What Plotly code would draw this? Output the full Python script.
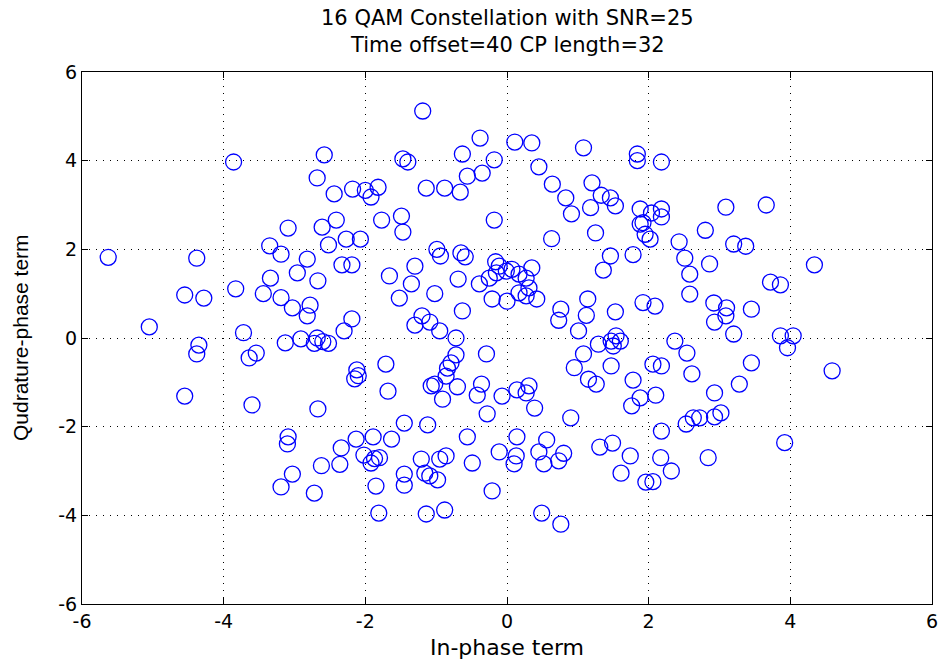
import plotly.graph_objects as go

# Received 16-QAM symbols after timing offset (in-phase, quadrature)
in_phase = [
    -1.19, -0.38, 0.11, 0.35, 1.08, 1.84, 1.84, 2.18, -3.86, -2.58,
    -1.47, -1.40, -0.63, -0.18, 0.45, -0.56, -0.35, -1.14, -0.88, -0.66,
    -2.18, -2.00, -1.92, -1.82, 0.64, 1.20, 0.83, 0.91, 1.18, 1.33,
    1.46, 1.53, 1.88, 2.04, 2.18, 2.18, 1.92, 1.95, 2.02, -1.77,
    -1.49, -1.47, -0.18, 1.25, 0.63, -2.07, -0.99, -0.94, -0.65, -0.59,
    -0.16, 1.46, 1.78, -2.68, -2.44, -3.09, -2.61, -2.41, -2.27, -2.52,
    -3.35, -3.19, -2.82, -5.63, -4.38, -2.33, -2.19, -3.34, -2.96, -2.67,
    -3.83, -3.44, -3.19, -3.03, -2.78, -2.82, -4.55, -4.28, -5.05, -3.72,
    -2.19, -2.30, -3.13, -2.91, -2.68, -2.60, -2.72, -2.52, -4.35, -4.38,
    -3.54, -3.64, -2.12, -2.10, -2.15, -4.55, -3.60, -2.67, -3.09, -3.10,
    -2.13, -2.34, -2.36, -2.62, -3.03, -3.19, -2.72, -1.30, -1.66, -1.35,
    -0.69, -1.52, -1.02, -0.63, -1.20, -1.30, -1.09, -0.95, -0.72, -0.11,
    -0.01, 0.07, 0.17, -0.15, -0.25, -0.39, 0.35, 0.27, 0.31, 0.17,
    0.27, 0.42, -0.21, 0.00, 0.76, 0.73, 1.14, 1.12, 1.01, 1.36,
    1.92, 1.53, 1.29, 1.47, 1.54, 1.60, 1.50, 1.08, 0.95, 1.47,
    1.15, 1.26, 1.78, 1.88, 1.76, 0.90, -1.71, -0.72, -0.79, -0.84,
    -0.86, -0.29, -1.68, -1.07, -1.02, -0.70, -0.91, -0.36, -0.42, -0.07,
    0.14, 0.31, 0.27, 0.39, -0.28, -1.45, -1.12, -1.89, -1.63, -0.56,
    0.14, 0.56, -2.02, -1.87, -1.80, -1.92, -1.21, -0.95, -0.86, -1.16,
    -1.09, -0.98, -1.45, -1.45, -0.49, -0.11, 0.13, 0.10, 0.45, 0.52,
    0.73, 0.80, 1.31, 1.49, 1.74, 1.61, 1.96, -1.85, -0.21, -1.81,
    -1.14, -0.88, 0.49, 0.76, 3.09, 3.66, 2.80, 2.43, 3.20, 3.37,
    2.51, 2.86, 2.58, 4.34, 3.72, 3.86, 2.58, 2.09, 2.92, 3.10,
    3.09, 2.93, 3.45, 3.20, 3.86, 4.04, 3.96, 2.37, 2.54, 2.06,
    2.18, 3.45, 2.61, 4.59, 3.28, 2.93, 2.10, 3.02, 2.93, 2.72,
    2.63, 2.53, 2.18, 3.92, 2.17, 2.84, 2.32, 2.06, 1.88,
]
quadrature = [
    5.12, 4.51, 4.42, 4.40, 4.29, 4.15, 4.00, 3.97, 3.97, 4.13,
    4.04, 3.97, 4.15, 4.02, 3.86, 3.65, 3.72, 3.38, 3.38, 3.29,
    3.36, 3.33, 3.18, 3.40, 3.47, 3.50, 3.16, 2.80, 2.94, 3.22,
    3.16, 2.98, 2.91, 2.82, 2.91, 2.73, 2.60, 2.34, 2.23, 2.66,
    2.75, 2.39, 2.66, 2.37, 2.24, 2.23, 2.00, 1.85, 1.92, 1.83,
    1.72, 1.85, 1.88, 3.61, 3.25, 2.48, 2.50, 2.66, 2.23, 2.10,
    2.08, 1.89, 1.78, 1.82, 1.80, 1.65, 1.65, 1.35, 1.47, 1.29,
    1.11, 1.00, 0.91, 0.68, 0.74, 0.50, 0.97, 0.90, 0.25, 0.12,
    0.43, 0.16, -0.11, -0.02, 0.00, -0.08, -0.12, -0.12, -0.16, -0.36,
    -0.34, -0.45, -0.72, -0.85, -0.92, -1.31, -1.51, -1.60, -2.23, -2.39,
    -2.28, -2.48, -2.85, -2.88, -3.07, -3.36, -3.50, 1.62, 1.40, 1.22,
    1.33, 0.90, 1.00, 0.61, 0.50, 0.29, 0.36, 0.16, 0.00, 1.62,
    1.51, 1.55, 1.44, 1.47, 1.35, 1.22, 1.58, 1.35, 1.13, 1.02,
    0.95, 0.88, 0.88, 0.83, 0.65, 0.40, 0.88, 0.51, 0.16, 1.53,
    0.80, 0.59, -0.14, -0.07, 0.05, -0.07, -0.18, -0.36, -0.67, -0.63,
    -0.93, -1.04, -0.95, -1.35, -1.53, -1.80, -0.59, -0.38, -0.56, -0.68,
    -0.86, -0.36, -1.20, -1.08, -1.04, -1.10, -1.38, -1.04, -1.29, -1.31,
    -1.17, -1.08, -1.24, -1.58, -1.71, -1.92, -1.96, -2.23, -2.28, -2.23,
    -2.23, -2.30, -2.64, -2.72, -2.70, -2.82, -2.73, -2.73, -2.66, -3.05,
    -3.11, -3.20, -3.07, -3.32, -2.82, -2.57, -2.66, -2.84, -2.57, -2.84,
    -2.77, -2.60, -2.46, -2.37, -2.66, -3.05, -3.25, -3.34, -3.45, -3.95,
    -3.97, -3.88, -3.95, -4.20, 2.95, 3.00, 2.43, 2.17, 2.12, 2.07,
    1.80, 1.67, 1.44, 1.65, 1.26, 1.20, 0.99, 0.72, 0.79, 0.68,
    0.50, 0.36, 0.65, 0.09, 0.05, 0.05, -0.22, -0.07, -0.34, -0.59,
    -0.63, -0.56, -0.81, -0.74, -1.04, -1.24, -1.29, -1.69, -1.78, -1.80,
    -1.80, -1.94, -2.10, -2.36, -2.70, -2.70, -3.00, -3.24, 2.57,
]

tick_vals = [-6, -4, -2, 0, 2, 4, 6]
tick_text = ["-6", "-4", "-2", "0", "2", "4", "6"]
title_lines = ["16 QAM Constellation with SNR=25", "Time offset=40 CP length=32"]
x_label = "In-phase term"
y_label = "Qudrature-phase term"

WIDE_FONT = "DejaVu Sans, Verdana, sans-serif"
NARROW_FONT = "Liberation Sans, Arial, sans-serif"

fig = go.Figure(
    go.Scatter(
        x=in_phase,
        y=quadrature,
        mode="markers",
        marker=dict(symbol="circle-open", size=16, color="#0000ff",
                    line=dict(width=1.3, color="#0000ff")),
        hoverinfo="x+y",
    )
)

axis_common = dict(
    range=[-6, 6],
    tickvals=tick_vals,
    ticktext=tick_text,
    ticks="inside",
    ticklen=6,
    tickcolor="black",
    showline=True,
    linecolor="black",
    linewidth=1,
    mirror="ticks",
    showgrid=True,
    gridcolor="black",
    gridwidth=1,
    griddash="1px,6px",
    zeroline=False,
    tickfont=dict(family=WIDE_FONT, size=19, color="black"),
)

fig.update_xaxes(**axis_common)
fig.update_yaxes(**axis_common)

fig.update_layout(
    width=949,
    height=661,
    margin=dict(l=82, r=11, t=72, b=57),
    paper_bgcolor="white",
    plot_bgcolor="white",
    showlegend=False,
    annotations=[
        dict(text=title_lines[0], x=0.5, y=1, xref="paper", yref="paper",
             xanchor="center", yanchor="middle", yshift=54,
             showarrow=False, font=dict(family=WIDE_FONT, size=21, color="black")),
        dict(text=title_lines[1], x=0.5, y=1, xref="paper", yref="paper",
             xanchor="center", yanchor="middle", yshift=27,
             showarrow=False, font=dict(family=WIDE_FONT, size=21, color="black")),
        dict(text=x_label, x=0.5, y=0, xref="paper", yref="paper",
             xanchor="center", yanchor="middle", yshift=-43,
             showarrow=False, font=dict(family=WIDE_FONT, size=22, color="black")),
        dict(text=y_label, x=0, y=0.5, xref="paper", yref="paper",
             xanchor="center", yanchor="middle", xshift=-62, textangle=-90,
             showarrow=False, font=dict(family=NARROW_FONT, size=21, color="black")),
    ],
)

fig.write_html("out.html")
